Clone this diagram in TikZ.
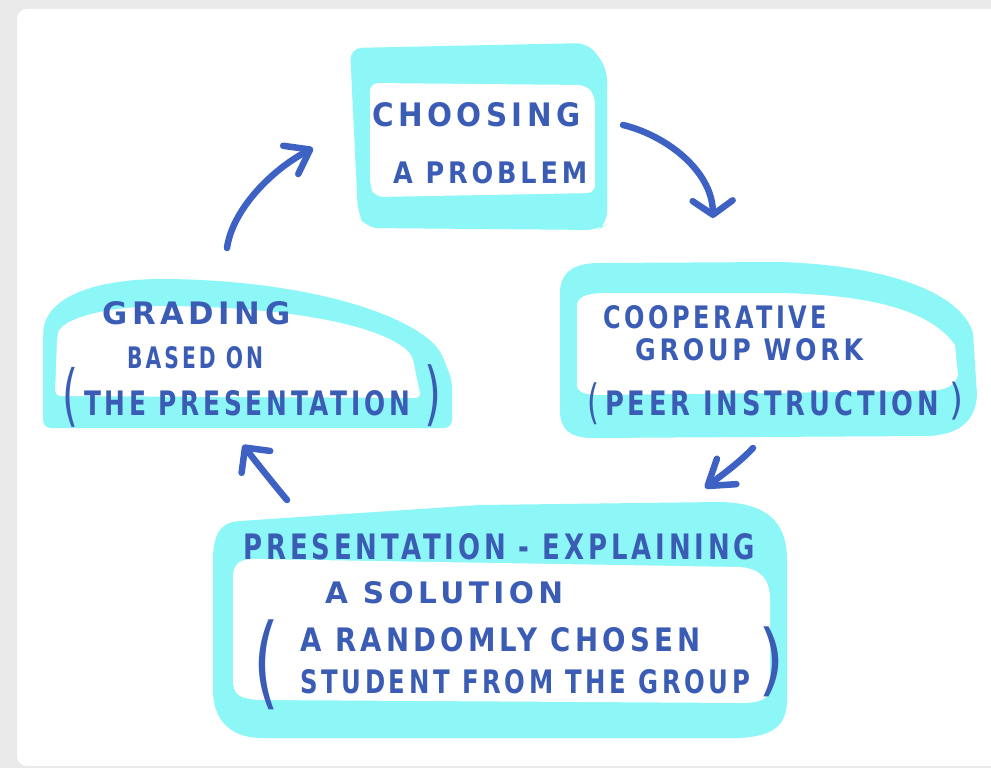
\documentclass[tikz,border=0pt]{standalone}
\usepackage{fontspec}
\setmainfont{DejaVu Sans}[LetterSpace=15]
\usetikzlibrary{arrows.meta}
\definecolor{cyanband}{RGB}{141,246,246}
\definecolor{ink}{RGB}{58,92,180}
\definecolor{arrowink}{RGB}{62,98,196}
\definecolor{framegray}{RGB}{234,234,234}
\begin{document}
\begin{tikzpicture}[x=1pt,y=-1pt,
  band/.style={fill=cyanband, draw=none},
  hole/.style={fill=white, draw=none},
  txt/.style={text=ink, inner sep=0pt, anchor=west, font=\bfseries},
  paren/.style={text=ink, inner sep=0pt},
  flow/.style={draw=arrowink, line width=6.5pt, line cap=round, line join=round}
]
\useasboundingbox (0,0) rectangle (991,768);
\fill[framegray] (0,0) rectangle (991,768);
\fill[white, rounded corners=10pt] (17,9) rectangle (1005,766);

% ---- box 1: choosing a problem
\fill[band, rounded corners=12pt] (350,48) -- (588,43) -- (607,68) -- (607,224) -- (598,230) -- (366,228) -- (358,214) -- cycle;
\fill[hole, rounded corners=8pt] (370,83) -- (586,85) -- (595,96) -- (595,193) -- (375,197) -- (370,186) -- cycle;

% ---- box 2: cooperative group work
\fill[band] (560,410) -- (560,290) .. controls (562,268) and (580,263) .. (600,263) -- (780,262) .. controls (880,265) and (960,290) .. (973,333) -- (977,395) .. controls (975,425) and (955,434) .. (930,436) -- (590,438) .. controls (570,437) and (560,430) .. (560,410) -- cycle;
\fill[hole] (577,385) -- (577,305) .. controls (578,295) and (590,293) .. (610,293) -- (780,293) .. controls (870,295) and (930,310) .. (955,345) -- (958,375) .. controls (955,386) and (945,390) .. (930,391) -- (600,395) .. controls (585,395) and (577,392) .. (577,385) -- cycle;

% ---- box 3: presentation
\fill[band] (213,690) -- (213,560) .. controls (213,535) and (220,522) .. (240,521) -- (480,505) -- (720,502) .. controls (765,503) and (787,520) .. (787,560) -- (787,700) .. controls (787,728) and (770,736) .. (740,738) -- (260,738) .. controls (230,737) and (213,720) .. (213,690) -- cycle;
\fill[hole] (233,680) -- (233,578) .. controls (233,563) and (240,559) .. (255,559) -- (740,567) .. controls (762,569) and (770,580) .. (770,600) -- (770,685) .. controls (770,700) and (760,703) .. (740,703) -- (260,700) .. controls (240,699) and (233,695) .. (233,680) -- cycle;

% ---- box 4: grading
\fill[band, rounded corners=8pt] (43,428) -- (43,340) .. controls (45,295) and (100,279) .. (170,279) .. controls (300,282) and (400,310) .. (440,350) -- (452,380) -- (452,428) -- cycle;
\fill[hole, rounded corners=6pt] (55,396) -- (57,340) .. controls (60,318) and (110,306) .. (170,306) .. controls (290,308) and (380,325) .. (412,355) -- (421,398) -- cycle;

% ---- texts
\node[txt] (c1) at (372,115) {\resizebox{208pt}{24pt}{CHOOSING}};
\node[txt] (c2) at (393,173) {\resizebox{194pt}{22pt}{A PROBLEM}};

\node[txt] (g1) at (603,317) {\resizebox{224pt}{23pt}{COOPERATIVE}};
\node[txt] (g2) at (635,350) {\resizebox{228pt}{22pt}{GROUP WORK}};
\node[paren] (g3l) at (593,404) {\resizebox*{12pt}{42pt}{(}};
\node[txt] (g3) at (605,403) {\resizebox{334pt}{25pt}{PEER INSTRUCTION}};
\node[paren] (g3r) at (956,401) {\resizebox*{14pt}{38pt}{)}};

\node[txt] (p1) at (243,547) {\resizebox{512pt}{26pt}{PRESENTATION - EXPLAINING}};
\node[txt] (p2) at (325,593) {\resizebox{238pt}{22pt}{A SOLUTION}};
\node[paren] (p3l) at (267,665) {\resizebox*{26pt}{90pt}{(}};
\node[txt] (p3) at (300,640) {\resizebox{400pt}{24pt}{A RANDOMLY CHOSEN}};
\node[txt] (p4) at (300,682) {\resizebox{450pt}{24pt}{STUDENT FROM THE GROUP}};
\node[paren] (p4r) at (771,662) {\resizebox*{26pt}{70pt}{)}};

\node[txt] (r1) at (102,313) {\resizebox{188pt}{23pt}{GRADING}};
\node[txt] (r2) at (127,358) {\resizebox{136pt}{22pt}{BASED ON}};
\node[paren] (r3l) at (71,397) {\resizebox*{16pt}{60pt}{(}};
\node[txt] (r3) at (84,403) {\resizebox{326pt}{25pt}{THE PRESENTATION}};
\node[paren] (r3r) at (433,396) {\resizebox*{17pt}{62pt}{)}};

% ---- arrows
\coordinate (a1s) at (227,248); \coordinate (a1e) at (313,148);
\coordinate (a2s) at (623,125); \coordinate (a2e) at (713,218);
\coordinate (a3s) at (753,448); \coordinate (a3e) at (705,488);
\coordinate (a4s) at (287,500); \coordinate (a4e) at (243,445);

\draw[flow, -{Straight Barb[round, length=22pt, width=32pt]}] (a1s) .. controls (232,212) and (268,172) .. (a1e);
\draw[flow, -{Straight Barb[round, length=14pt, width=40pt]}] (a2s) .. controls (665,135) and (712,170) .. (a2e);
\draw[flow, -{Straight Barb[round, length=24pt, width=32pt]}] (a3s) .. controls (740,462) and (722,475) .. (a3e);
\draw[flow, -{Straight Barb[round, length=18pt, width=36pt]}] (a4s) .. controls (272,482) and (256,462) .. (a4e);
\end{tikzpicture}
\end{document}
